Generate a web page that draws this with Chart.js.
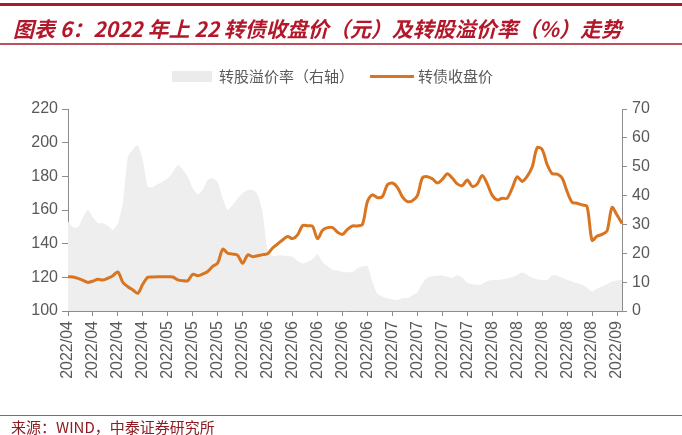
<!DOCTYPE html>
<html>
<head>
<meta charset="utf-8">
<script src="https://cdn.jsdelivr.net/npm/chart.js@4/dist/chart.umd.min.js"></script>
<style>
  body { margin: 0; background: #fff; }
  #wrap { position: relative; width: 682px; height: 435px; overflow: hidden; background: #fff; }
  #wrap canvas { position: absolute; left: 0; top: 0; }
  .abs { position: absolute; white-space: nowrap; }
  #title { left: 13px; top: 15px; font: italic bold 21px "Noto Sans CJK SC"; color: #b3172a; line-height: 26px; }
  .lg { font: 15px "Noto Sans CJK SC"; color: #595959; line-height: 20px; }
  #source { left: 11px; top: 418px; font: 15px "Noto Sans CJK SC"; color: #8e1c22; line-height: 18px; }
</style>
</head>
<body>
<div id="wrap">
  <canvas id="priceChart" width="682" height="435"></canvas>
  <div class="abs" style="left:0;top:3px;width:682px;height:3px;background:#a8192b"></div>
  <div class="abs" id="title">图表 6：2022 年上 22 转债收盘价（元）及转股溢价率（%）走势</div>
  <div class="abs" style="left:0;top:43px;width:682px;height:2px;background:#b9525c"></div>

  <div class="abs" style="left:172px;top:71px;width:40px;height:11px;background:#ebebeb"></div>
  <div class="abs lg" style="left:219px;top:66px">转股溢价率（右轴）</div>
  <div class="abs" style="left:370px;top:75px;width:44px;height:3px;background:#d97420"></div>
  <div class="abs lg" style="left:418px;top:66px">转债收盘价</div>

  <div class="abs" style="left:0;top:415px;width:682px;height:1px;background:#b9525c"></div>
  <div class="abs" id="source">来源：WIND，中泰证券研究所</div>
</div>

<script>
// x轴刻度（每5个交易日一个）
const tickLabels = ['2022/04', '2022/04', '2022/04', '2022/04', '2022/05', '2022/05', '2022/05', '2022/05',
	'2022/06', '2022/06', '2022/06', '2022/06', '2022/06', '2022/07', '2022/07', '2022/07', '2022/07',
	'2022/08', '2022/08', '2022/08', '2022/08', '2022/08', '2022/09'];

// 转债收盘价（元）
const closePrice = [120.4, 120.2, 119.4, 118.2, 117.0, 117.8, 118.8, 118.4, 119.5, 121.0,
	123.2, 117.0, 114.4, 112.5, 110.5, 116.0, 120.0, 120.2, 120.3, 120.3,
	120.3, 120.2, 118.5, 118.0, 118.0, 121.8, 121.0, 122.0, 123.5, 126.5,
	128.5, 136.7, 134.3, 133.8, 133.0, 128.3, 133.3, 132.3, 132.8, 133.5,
	134.0, 137.4, 139.8, 142.2, 144.2, 143.0, 145.2, 150.7, 150.6, 150.3,
	143.0, 148.0, 149.5, 149.6, 146.8, 145.5, 148.5, 150.5, 150.5, 151.5,
	165.0, 169.0, 167.3, 168.0, 175.0, 176.0, 173.5, 167.8, 165.0, 165.5,
	168.5, 179.0, 179.8, 178.5, 176.0, 178.2, 181.5, 179.0, 175.5, 174.5,
	177.8, 174.0, 175.5, 180.5, 175.5, 168.7, 166.0, 167.0, 167.0, 173.0,
	179.8, 177.0, 180.0, 185.5, 197.0, 196.0, 187.0, 181.6, 181.3, 179.0,
	171.0, 164.6, 164.0, 163.0, 162.0, 142.0, 144.5, 145.5, 147.5, 161.5,
	157.0, 152.0];

// 转股溢价率（%，右轴）
const premiumRate = [31.0, 29.0, 29.0, 32.5, 35.0, 32.5, 30.5, 30.4, 29.5, 28.1,
	30.4, 37.5, 53.5, 56.0, 57.5, 52.0, 43.0, 43.0, 44.0, 44.8,
	46.0, 48.0, 50.6, 49.0, 46.5, 42.5, 40.5, 42.0, 45.5, 46.0,
	44.5, 39.0, 35.0, 36.7, 39.0, 40.8, 41.9, 41.9, 40.5, 34.0,
	21.0, 19.0, 19.3, 19.2, 19.0, 18.8, 17.3, 16.5, 17.0, 18.0,
	19.7, 17.0, 15.5, 14.3, 14.0, 13.6, 13.4, 13.5, 14.8, 15.5,
	15.6, 10.0, 6.0, 5.0, 4.4, 4.0, 3.8, 4.5, 4.5, 5.5,
	6.5, 9.5, 11.5, 12.0, 12.3, 12.3, 11.9, 11.5, 12.5, 11.5,
	9.8, 9.3, 9.0, 9.3, 10.3, 10.7, 10.7, 11.0, 11.3, 11.8,
	12.5, 13.3, 12.5, 11.5, 11.0, 10.7, 10.8, 12.3, 12.2, 11.5,
	10.8, 10.2, 9.6, 9.1, 8.0, 6.8, 7.8, 8.5, 9.3, 10.2,
	10.6, 10.7];

const axisColor = '#8c8c8c';
const tickFont = { family: '"Liberation Sans", Arial', size: 16 };

const ctx = document.getElementById('priceChart').getContext('2d');

new Chart(ctx, {
	type: 'line',
	data: {
		labels: closePrice.map((_, i) => i),
		datasets: [{
			label: '转股溢价率（右轴）',
			data: premiumRate,
			yAxisID: 'y1',
			fill: 'origin',
			backgroundColor: '#eeeeee',
			borderWidth: 0,
			pointRadius: 0,
			tension: 0.2,
			order: 2
		}, {
			label: '转债收盘价',
			data: closePrice,
			yAxisID: 'y',
			fill: false,
			borderColor: '#d97420',
			borderWidth: 3,
			pointRadius: 0,
			tension: 0.3,
			order: 1
		}]
	},
	options: {
		responsive: false,
		animation: false,
		layout: { padding: { top: 109, left: 0, right: 0, bottom: 0 } },
		plugins: {
			legend: { display: false },
			tooltip: { enabled: false }
		},
		scales: {
			x: {
				offset: false,
				afterFit: s => { s.height = 124; },
				grid: { drawOnChartArea: false, drawTicks: true, tickLength: 5, color: axisColor },
				border: { display: true, color: axisColor },
				ticks: {
					autoSkip: false,
					minRotation: 90,
					maxRotation: 90,
					padding: 5,
					color: '#595959',
					font: tickFont,
					callback: (v, i) => (i % 5 === 0 ? tickLabels[i / 5] : null)
				}
			},
			y: {
				position: 'left',
				min: 100,
				max: 220,
				afterFit: s => { s.width = 68; },
				grid: { drawOnChartArea: false, drawTicks: true, tickLength: 6, color: axisColor },
				border: { display: true, color: axisColor },
				ticks: { stepSize: 20, padding: 4, color: '#595959', font: tickFont }
			},
			y1: {
				position: 'right',
				min: 0,
				max: 70,
				afterFit: s => { s.width = 60; },
				grid: { drawOnChartArea: false, drawTicks: true, tickLength: 5, color: axisColor },
				border: { display: true, color: axisColor },
				ticks: { stepSize: 10, padding: 5, color: '#595959', font: tickFont }
			}
		}
	}
});
</script>
</body>
</html>
